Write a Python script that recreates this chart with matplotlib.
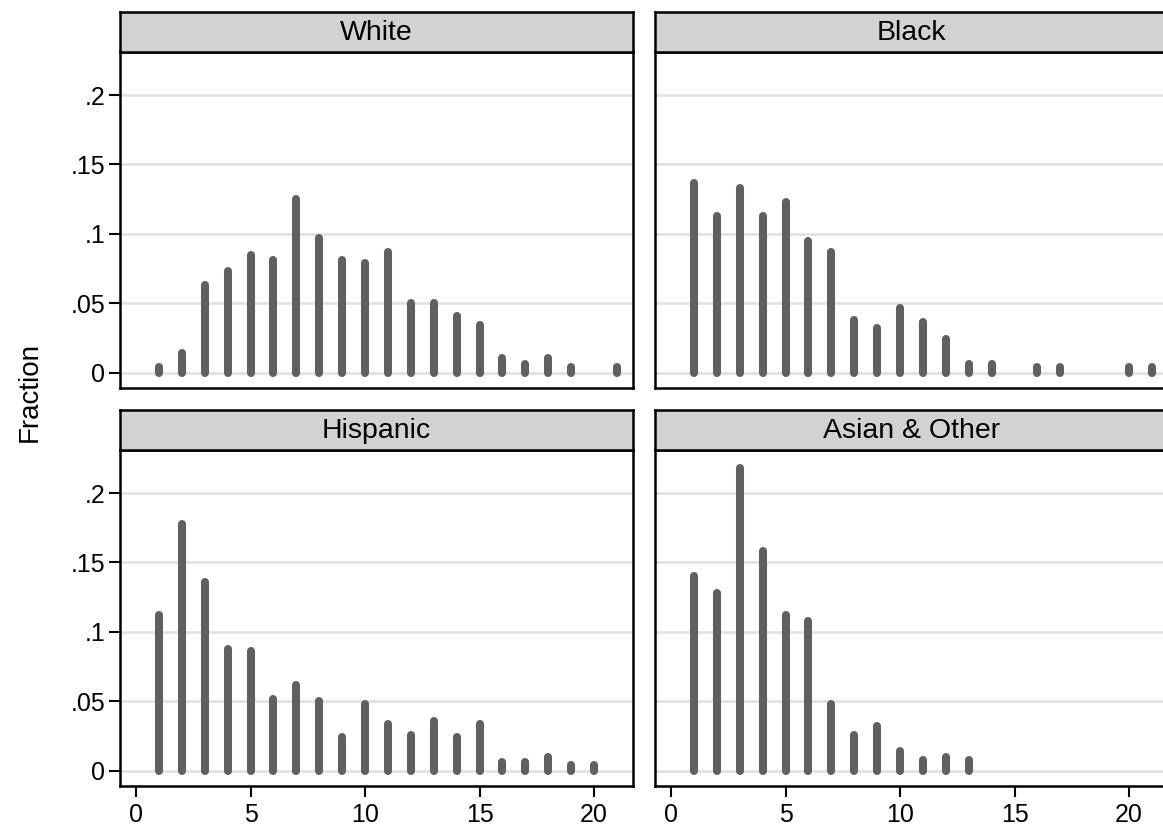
import numpy as np
from matplotlib import pyplot as plt

plt.rcParams['font.family'] = ['Liberation Sans', 'DejaVu Sans']

groups = ['White', 'Black', 'Hispanic', 'Asian & Other']

white_x = [1, 2, 3, 4, 5, 6, 7, 8, 9, 10, 11, 12, 13, 14, 15, 16, 17, 18, 19, 21]
white_y = [0.004, 0.0145, 0.063, 0.073, 0.085, 0.081, 0.125, 0.097, 0.081, 0.079,
           0.087, 0.0505, 0.0505, 0.0405, 0.0345, 0.0105, 0.0065, 0.0105, 0.004, 0.004]

black_x = [1, 2, 3, 4, 5, 6, 7, 8, 9, 10, 11, 12, 13, 14, 16, 17, 20, 21]
black_y = [0.137, 0.113, 0.133, 0.113, 0.123, 0.095, 0.087, 0.038, 0.032, 0.0465,
           0.0365, 0.024, 0.006, 0.006, 0.004, 0.004, 0.004, 0.004]

hisp_x = [1, 2, 3, 4, 5, 6, 7, 8, 9, 10, 11, 12, 13, 14, 15, 16, 17, 18, 19, 20]
hisp_y = [0.112, 0.178, 0.136, 0.088, 0.086, 0.052, 0.062, 0.050, 0.024, 0.048,
          0.034, 0.026, 0.036, 0.024, 0.034, 0.006, 0.006, 0.010, 0.004, 0.004]

asian_x = [1, 2, 3, 4, 5, 6, 7, 8, 9, 10, 11, 12, 13]
asian_y = [0.140, 0.128, 0.218, 0.158, 0.112, 0.108, 0.048, 0.026, 0.032, 0.014,
           0.008, 0.010, 0.008]

xticks = [0, 5, 10, 15, 20]
yticks = [0, 0.05, 0.1, 0.15, 0.2]
ytick_labels = ['0', '.05', '.1', '.15', '.2']

data = [(white_x, white_y), (black_x, black_y), (hisp_x, hisp_y), (asian_x, asian_y)]

W, H = 1163, 831
fig = plt.figure(figsize=(W / 100, H / 100), dpi=100)

# panel boxes in pixels: left, top of plot area, bottom of plot area
lefts = [120, 655]
rows = [(52, 388), (450, 786)]
pw = 513
strip_h = 40

bar_col = '#606060'
for i, (name, (xs, ys)) in enumerate(zip(groups, data)):
    r, c = divmod(i, 2)
    top, bot = rows[r]
    left = lefts[c]
    ax = fig.add_axes([left / W, 1 - bot / H, pw / W, (bot - top) / H])
    sax = fig.add_axes([left / W, 1 - top / H, pw / W, strip_h / H])

    ax.vlines(xs, 0, ys, colors=bar_col, linewidth=5.8, capstyle='round', zorder=3)
    ax.set_xlim(-0.7, 21.7)
    ax.set_ylim(-0.011, 0.231)
    ax.set_yticks(yticks)
    ax.grid(axis='y', color='#e2e2e2', linewidth=2, zorder=0)
    for s in ax.spines.values():
        s.set_linewidth(1.8)
    if c == 0:
        ax.set_yticklabels(ytick_labels)
        ax.tick_params(axis='y', length=8, width=1.5, pad=2.5, labelsize=18)
    else:
        ax.tick_params(axis='y', length=0, labelleft=False)
    if r == 1:
        ax.set_xticks(xticks)
        ax.tick_params(axis='x', length=8, width=1.5, pad=4.5, labelsize=18)
    else:
        ax.set_xticks([])

    sax.set_facecolor('#d2d2d2')
    sax.set_xticks([])
    sax.set_yticks([])
    for s in sax.spines.values():
        s.set_linewidth(1.8)
    sax.text(0.5, 0.47, name, ha='center', va='center', fontsize=20.5, transform=sax.transAxes)

fig.text(30 / W, 1 - 392 / H, 'Fraction', rotation=90, ha='center', va='center', fontsize=20)

plt.savefig('out.png', dpi=100)
